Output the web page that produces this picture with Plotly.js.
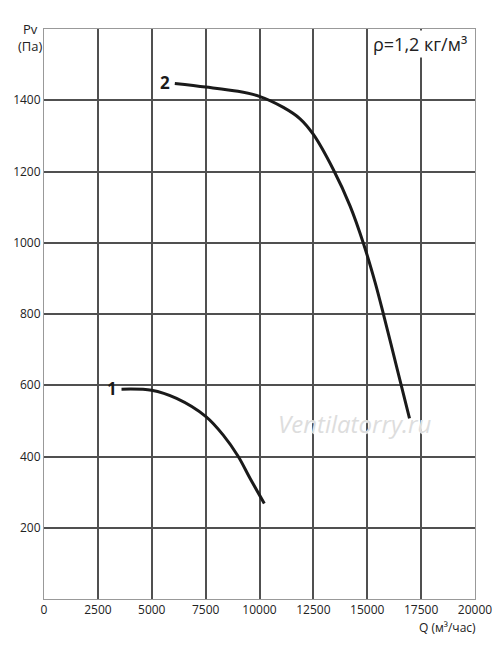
<!DOCTYPE html>
<html>
<head>
<meta charset="utf-8">
<script src="https://cdn.plot.ly/plotly-3.0.1.min.js"></script>
<style>html,body{margin:0;padding:0;background:#fff;}#chart{width:500px;height:645px;}</style>
</head>
<body>
<div id="chart"></div>
<script>
const curve1Q = [3597, 4991, 6152, 7514, 8318, 9015, 9559, 10223];
const curve1P = [589, 586, 563, 512, 460, 400, 339, 268];
const curve2Q = [6070, 7500, 9000, 9991, 11106, 11882, 12500, 13430, 14205, 14824, 15367, 15753, 16375, 16961];
const curve2P = [1447, 1437, 1425, 1411, 1380, 1348, 1304, 1205, 1103, 998, 888, 799, 649, 507];
const xTicks = [0, 2500, 5000, 7500, 10000, 12500, 15000, 17500, 20000];
const yTicks = [200, 400, 600, 800, 1000, 1200, 1400];
const curveLabels = ['1', '2'];

const font = 'Open Sans, sans-serif';
const lineStyle = {color: '#1a1a1a', width: 3, shape: 'spline', smoothing: 0.9, simplify: false};

const traces = [
  {x: curve1Q, y: curve1P, mode: 'lines', line: lineStyle, hoverinfo: 'skip', showlegend: false},
  {x: curve2Q, y: curve2P, mode: 'lines', line: lineStyle, hoverinfo: 'skip', showlegend: false}
];

const layout = {
  width: 500, height: 645,
  margin: {l: 44, r: 25, t: 29, b: 46, pad: 0},
  paper_bgcolor: '#fff', plot_bgcolor: '#fff',
  showlegend: false,
  font: {family: font, size: 12, color: '#222'},
  xaxis: {
    range: [0, 20000], tickvals: xTicks, ticktext: xTicks.map(String),
    showgrid: true, gridcolor: '#505050', gridwidth: 2,
    zeroline: false, showline: true, linecolor: '#999', linewidth: 1, mirror: true,
    ticks: '', tickfont: {family: font, size: 12, color: '#222'}, fixedrange: true
  },
  yaxis: {
    range: [0, 1600], tickvals: yTicks, ticktext: yTicks.map(String),
    showgrid: true, gridcolor: '#505050', gridwidth: 2,
    zeroline: false, showline: true, linecolor: '#999', linewidth: 1, mirror: true,
    ticks: '', tickfont: {family: font, size: 12, color: '#222'}, fixedrange: true
  },
  annotations: [
    {text: 'Pv<br>(Па)', xref: 'paper', yref: 'paper', x: -0.032, y: 0.985, xanchor: 'center', yanchor: 'middle',
     showarrow: false, font: {family: font, size: 13, color: '#222'}},
    {text: 'Q (м³/час)', xref: 'paper', yref: 'paper', x: 0.937, y: -0.050, xanchor: 'center', yanchor: 'middle',
     showarrow: false, font: {family: font, size: 12, color: '#222'}},
    {text: 'ρ=1,2 кг/м³', xref: 'paper', yref: 'paper', x: 0.872, y: 0.974, xanchor: 'center', yanchor: 'middle',
     showarrow: false, bgcolor: '#fff', font: {family: font, size: 18, color: '#222'}},
    {text: '<b>' + curveLabels[0] + '</b>', x: 3146, y: 592, xanchor: 'center', yanchor: 'middle',
     showarrow: false, font: {family: font, size: 17, color: '#1a1a1a'}},
    {text: '<b>' + curveLabels[1] + '</b>', x: 5609, y: 1450, xanchor: 'center', yanchor: 'middle',
     showarrow: false, font: {family: font, size: 17, color: '#1a1a1a'}},
    {text: 'Ventilatorry.ru', x: 14440, y: 494, xanchor: 'center', yanchor: 'middle',
     showarrow: false, font: {family: font, size: 24, color: '#dddddd', style: 'italic', shadow: '1px 1px 1px #fff'}}
  ]
};

Plotly.newPlot('chart', traces, layout, {displayModeBar: false, staticPlot: true});
</script>
</body>
</html>
